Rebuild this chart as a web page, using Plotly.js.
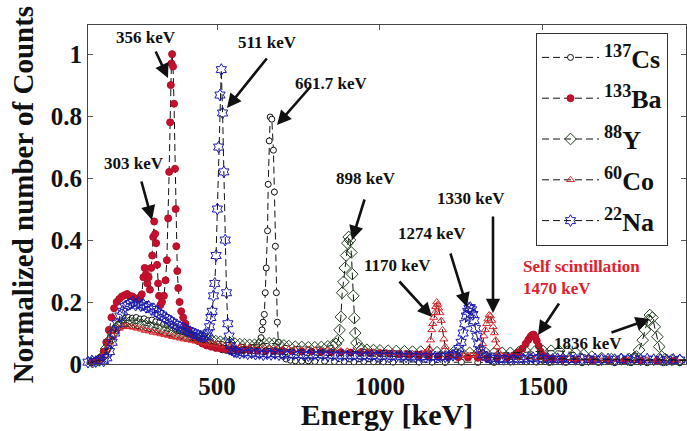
<!DOCTYPE html>
<html>
<head>
<meta charset="utf-8">
<script src="https://cdn.plot.ly/plotly-3.0.1.min.js"></script>
<style>html,body{margin:0;padding:0;background:#fff;}#chart{width:687px;height:431px;}</style>
</head>
<body>
<div id="chart"></div>
<script>
// ---- data (energy in keV, normalized counts) ----
const seriesNames = ['<sup>137</sup>Cs', '<sup>133</sup>Ba', '<sup>88</sup>Y', '<sup>60</sup>Co', '<sup>22</sup>Na'];

const csE = [100,115,130,145,158,168,178,188,198,208,218,228,240,252,264,276,288,300,312,324,336,348,360,372,384,396,408,420,432,444,456,468,480,492,504,516,528,540,552,564,576,588,600,612,622,630,635,638,641,645,648,651,655,657,660,663,668,673,676,679,682,685,688,694,702,712,725,740,760,780,800,830,860,890,920,950,980,1010,1040,1080,1120,1160,1200,1250,1300,1350,1400,1450,1480,1520,1570,1620,1670,1720,1770,1820,1870,1920];
const csV = [0.004,0.006,0.008,0.015,0.03,0.06,0.09,0.115,0.13,0.14,0.148,0.15,0.148,0.15,0.145,0.146,0.14,0.142,0.136,0.134,0.128,0.125,0.118,0.114,0.108,0.104,0.098,0.094,0.088,0.084,0.08,0.075,0.07,0.06,0.052,0.046,0.044,0.042,0.043,0.044,0.046,0.048,0.05,0.053,0.06,0.07,0.085,0.11,0.135,0.16,0.23,0.31,0.43,0.58,0.72,0.797,0.79,0.69,0.555,0.38,0.23,0.135,0.07,0.04,0.025,0.016,0.012,0.01,0.009,0.01,0.008,0.009,0.008,0.008,0.007,0.008,0.007,0.007,0.006,0.007,0.006,0.006,0.005,0.006,0.005,0.005,0.006,0.007,0.006,0.005,0.005,0.004,0.005,0.004,0.004,0.004,0.004,0.004];

const baE = [100,115,130,142,152,160,168,176,184,192,200,208,216,224,232,240,248,256,263,269,274,278,282,286,290,294,298,301,304,307,310,313,316,319,322,326,331,337,342,346,350,353,356,358,360,362,365,368,371,373,375,378,381,385,390,396,403,411,420,430,442,455,468,482,496,510,525,540,560,580,600,625,650,675,700,730,760,790,820,850,880,910,940,970,1000,1030,1060,1090,1120,1150,1180,1210,1240,1270,1300,1330,1360,1390,1410,1425,1437,1447,1455,1461,1466,1471,1476,1481,1487,1493,1500,1510,1530,1560,1600,1650,1700,1750,1800,1850,1900,1940];
const baV = [0.004,0.006,0.01,0.02,0.04,0.07,0.11,0.15,0.18,0.2,0.21,0.218,0.222,0.226,0.22,0.218,0.212,0.21,0.215,0.225,0.28,0.31,0.29,0.26,0.28,0.24,0.31,0.35,0.41,0.46,0.42,0.39,0.32,0.26,0.22,0.19,0.2,0.22,0.27,0.335,0.47,0.62,0.78,0.9,0.97,1.0,0.96,0.84,0.63,0.5,0.38,0.3,0.245,0.2,0.17,0.15,0.13,0.11,0.095,0.082,0.074,0.066,0.06,0.056,0.052,0.05,0.048,0.047,0.046,0.045,0.044,0.043,0.043,0.042,0.042,0.041,0.04,0.04,0.039,0.038,0.038,0.037,0.036,0.035,0.035,0.033,0.031,0.03,0.028,0.026,0.024,0.023,0.022,0.021,0.02,0.02,0.02,0.022,0.028,0.038,0.05,0.065,0.078,0.087,0.093,0.095,0.088,0.075,0.058,0.04,0.028,0.02,0.016,0.014,0.013,0.012,0.012,0.011,0.011,0.01,0.01,0.01];

const yE = [100,118,136,150,160,170,180,190,200,210,220,232,244,256,268,280,292,304,316,328,340,352,364,376,388,400,412,424,436,448,460,472,484,496,510,525,540,555,570,585,600,615,630,645,660,675,690,705,720,740,760,780,800,820,840,855,865,872,876,880,884,888,892,896,900,904,908,912,915,918,921,924,928,935,945,960,980,1000,1025,1050,1075,1100,1125,1150,1175,1200,1225,1250,1275,1300,1325,1350,1375,1400,1425,1450,1475,1500,1525,1550,1575,1600,1625,1650,1680,1710,1740,1765,1780,1787,1795,1806,1813,1823,1828,1836,1843,1851,1857,1864,1875,1895,1920,1940];
const yV = [0.003,0.006,0.012,0.025,0.05,0.075,0.1,0.115,0.125,0.13,0.134,0.135,0.133,0.13,0.128,0.125,0.122,0.118,0.115,0.112,0.108,0.105,0.102,0.099,0.096,0.093,0.09,0.088,0.085,0.083,0.08,0.078,0.076,0.074,0.072,0.07,0.068,0.066,0.064,0.063,0.062,0.062,0.064,0.066,0.067,0.066,0.063,0.06,0.058,0.056,0.055,0.054,0.054,0.055,0.057,0.06,0.065,0.077,0.11,0.152,0.23,0.265,0.31,0.35,0.39,0.41,0.4,0.36,0.29,0.22,0.148,0.1,0.068,0.052,0.048,0.046,0.045,0.044,0.043,0.042,0.041,0.04,0.04,0.039,0.038,0.038,0.037,0.036,0.036,0.035,0.035,0.035,0.036,0.036,0.037,0.038,0.04,0.042,0.043,0.042,0.04,0.036,0.03,0.024,0.019,0.016,0.015,0.016,0.02,0.024,0.045,0.077,0.11,0.142,0.158,0.15,0.12,0.088,0.056,0.024,0.016,0.013,0.012,0.012];

const coE = [100,118,136,150,160,170,180,190,200,210,220,232,244,256,268,280,292,304,316,328,340,352,364,376,388,400,412,424,436,448,460,472,484,496,510,525,540,555,570,585,600,620,640,660,680,700,720,740,760,780,800,820,840,860,880,900,920,940,960,980,1000,1020,1040,1060,1080,1100,1115,1128,1138,1146,1151,1155,1159,1162,1165,1168,1171,1174,1177,1180,1184,1188,1192,1196,1200,1205,1212,1222,1234,1246,1258,1270,1282,1294,1303,1310,1315,1319,1323,1327,1331,1335,1339,1343,1347,1351,1355,1359,1364,1372,1385,1400,1420,1440,1460,1480,1500,1525,1550,1580,1610,1640,1670,1700,1730,1760,1790,1820,1850,1880,1910,1940];
const coV = [0.003,0.006,0.012,0.025,0.045,0.07,0.09,0.105,0.115,0.12,0.122,0.12,0.118,0.115,0.112,0.108,0.106,0.102,0.1,0.097,0.094,0.092,0.088,0.086,0.083,0.08,0.078,0.076,0.073,0.071,0.069,0.067,0.065,0.063,0.061,0.059,0.057,0.056,0.054,0.053,0.052,0.051,0.05,0.049,0.048,0.047,0.047,0.046,0.045,0.045,0.044,0.043,0.043,0.042,0.042,0.041,0.04,0.04,0.039,0.038,0.038,0.037,0.036,0.035,0.034,0.033,0.033,0.034,0.036,0.042,0.05,0.077,0.11,0.13,0.15,0.165,0.185,0.2,0.192,0.18,0.165,0.14,0.11,0.08,0.056,0.04,0.033,0.03,0.029,0.028,0.028,0.027,0.027,0.028,0.032,0.045,0.065,0.09,0.11,0.13,0.145,0.158,0.155,0.14,0.12,0.1,0.077,0.055,0.038,0.028,0.024,0.022,0.021,0.02,0.022,0.021,0.02,0.019,0.018,0.017,0.016,0.015,0.015,0.014,0.014,0.013,0.013,0.012,0.012,0.012,0.011,0.011];

const naE = [80,92,104,116,128,140,152,162,170,178,186,194,202,210,218,226,234,242,250,258,266,274,282,290,298,306,314,322,330,338,346,354,362,370,378,386,394,402,410,418,426,434,442,450,458,466,472,477,481,485,489,493,497,501,505,509,513,517,521,525,529,533,537,541,546,552,560,570,582,594,606,618,630,642,654,666,678,690,705,720,735,750,765,780,795,810,825,840,855,870,885,900,915,930,945,960,975,990,1005,1020,1035,1050,1065,1080,1095,1110,1125,1140,1155,1170,1185,1200,1212,1224,1234,1242,1249,1255,1260,1265,1269,1273,1277,1281,1285,1289,1293,1297,1302,1308,1316,1326,1338,1350,1365,1380,1395,1410,1425,1440,1455,1470,1485,1500,1515,1530,1545,1560,1580,1600,1620,1640,1660,1680,1700,1720,1740,1760,1780,1800,1820,1840,1860,1880,1900,1920,1940];
const naV = [0.008,0.012,0.006,0.01,0.008,0.012,0.01,0.02,0.04,0.07,0.1,0.13,0.155,0.17,0.185,0.19,0.195,0.2,0.19,0.198,0.188,0.192,0.183,0.186,0.176,0.178,0.168,0.163,0.158,0.15,0.146,0.14,0.135,0.128,0.125,0.12,0.116,0.112,0.108,0.104,0.1,0.097,0.093,0.09,0.088,0.09,0.1,0.12,0.15,0.17,0.22,0.26,0.35,0.5,0.7,0.868,0.95,0.81,0.62,0.4,0.23,0.13,0.09,0.06,0.045,0.04,0.038,0.035,0.037,0.033,0.036,0.032,0.034,0.03,0.033,0.031,0.034,0.03,0.032,0.029,0.031,0.028,0.03,0.027,0.03,0.028,0.03,0.027,0.029,0.026,0.028,0.026,0.028,0.025,0.027,0.025,0.027,0.024,0.026,0.024,0.026,0.023,0.025,0.023,0.025,0.022,0.024,0.022,0.024,0.022,0.024,0.023,0.026,0.028,0.035,0.05,0.07,0.1,0.13,0.155,0.17,0.18,0.182,0.175,0.16,0.14,0.115,0.09,0.065,0.045,0.03,0.022,0.018,0.016,0.018,0.015,0.017,0.015,0.017,0.016,0.018,0.02,0.018,0.016,0.017,0.015,0.017,0.015,0.017,0.015,0.016,0.014,0.016,0.014,0.016,0.014,0.016,0.014,0.016,0.014,0.016,0.014,0.015,0.013,0.015,0.013,0.014];

const xTicks = [500, 1000, 1500];
const yTicks = [0, 0.2, 0.4, 0.6, 0.8, 1];
const yTickText = ['0', '0.2', '0.4', '0.6', '0.8', '1'];

// ---- styling ----
const FONT = 'Liberation Serif, Times New Roman, serif';
const dashLine = {color: '#111', width: 1, dash: '7px,4px'};

function tr(i, E, V, marker) {
  return {
    x: E, y: V, name: seriesNames[i], type: 'scatter', mode: 'lines+markers',
    line: dashLine, marker: marker, cliponaxis: false, legendgroup: 'g' + i
  };
}

const traces = [
  tr(0, csE, csV, {symbol: 'circle', size: 6, color: '#ffffff', line: {color: '#111', width: 1}}),
  tr(1, baE, baV, {symbol: 'circle', size: 7, color: '#c8102e', line: {color: '#b0102a', width: 1}}),
  tr(2, yE, yV, {symbol: 'diamond-open', size: 9, color: '#23401f', line: {width: 1}}),
  tr(3, coE, coV, {symbol: 'triangle-up-open', size: 7, color: '#d9262c', line: {width: 1}}),
  tr(4, naE, naV, {symbol: 'hexagram-open', size: 9, color: '#1a1ab0', line: {width: 1}})
];

// layout helpers (pixel -> paper) for annotation placement
const PL = 88, PR = 686, PT = 25, PB = 364;
const pxX = X => (X - PL) / (PR - PL);
const pxY = Y => (PB - Y) / (PB - PT);

const labels = [
  ['356 keV', 146, 37], ['303 keV', 134, 163], ['511 keV', 267, 42], ['661.7 keV', 331, 83],
  ['898 keV', 366, 178], ['1274 keV', 432, 233], ['1170 keV', 397, 265], ['1330 keV', 471, 198],
  ['1836 keV', 588, 343]
];
const arrows = [
  [155, 50, 168, 78], [141, 180, 152, 220], [268, 57, 227, 108], [312, 85, 277, 125],
  [365, 198, 352, 240], [450, 252, 467, 307], [398, 280, 432, 317], [493, 215, 493, 313],
  [560, 302, 538, 335], [610, 333, 650, 319]
];

const annotations = [];
labels.forEach(l => annotations.push({
  text: l[0], xref: 'paper', yref: 'paper', x: pxX(l[1]), y: pxY(l[2]),
  xanchor: 'center', yanchor: 'middle', showarrow: false,
  font: {family: FONT, size: 17, weight: 'bold', color: '#111'}
}));
annotations.push({
  text: 'Self scintillation<br>1470 keV', xref: 'paper', yref: 'paper', x: pxX(521), y: pxY(277),
  xanchor: 'left', yanchor: 'middle', align: 'left', showarrow: false,
  font: {family: FONT, size: 17, weight: 'bold', color: '#e0202a'}
});
arrows.forEach(a => annotations.push({
  text: '', xref: 'paper', yref: 'paper', x: pxX(a[2]), y: pxY(a[3]),
  axref: 'pixel', ayref: 'pixel', ax: a[0] - a[2], ay: a[1] - a[3],
  showarrow: true, arrowhead: 2, arrowsize: 1.1, arrowwidth: 2.6, arrowcolor: '#111', standoff: 0
}));

const layout = {
  width: 687, height: 431,
  margin: {l: PL, r: 687 - PR, t: PT, b: 431 - PB},
  paper_bgcolor: '#fff', plot_bgcolor: '#fff',
  showlegend: true,
  legend: {
    x: pxX(536), y: pxY(33), xanchor: 'left', yanchor: 'top',
    bgcolor: '#fff', bordercolor: '#333', borderwidth: 1,
    font: {family: FONT, size: 26, weight: 'bold', color: '#111'},
    itemwidth: 57, tracegroupgap: 4
  },
  xaxis: {
    range: [104, 1939], tickvals: xTicks, ticks: 'inside', ticklen: 5, tickcolor: '#555',
    showline: true, linecolor: '#444', linewidth: 1, mirror: 'ticks', showgrid: false, zeroline: false,
    tickfont: {family: FONT, size: 25, weight: 'bold', color: '#111'},
    title: {text: 'Energy [keV]', font: {family: FONT, size: 30, weight: 'bold', color: '#111'}, standoff: 6}
  },
  yaxis: {
    range: [0, 1.094], tickvals: yTicks, ticktext: yTickText, ticks: 'inside', ticklen: 5, tickcolor: '#555',
    showline: true, linecolor: '#444', linewidth: 1, mirror: 'ticks', showgrid: false, zeroline: false,
    tickfont: {family: FONT, size: 25, weight: 'bold', color: '#111'},
    title: {text: 'Normalized number of Counts', font: {family: FONT, size: 29, weight: 'bold', color: '#111'}, standoff: 8}
  },
  annotations: annotations
};

Plotly.newPlot('chart', traces, layout, {displayModeBar: false, staticPlot: true});
</script>
</body>
</html>
